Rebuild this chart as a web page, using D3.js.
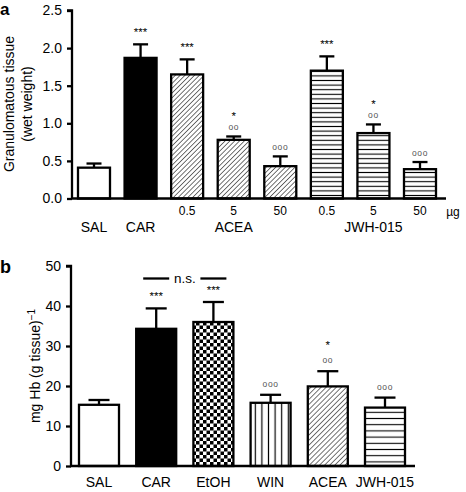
<!DOCTYPE html>
<html><head><meta charset="utf-8">
<script src="https://cdn.jsdelivr.net/npm/d3@7"></script>
<style>
html,body{margin:0;padding:0;background:#fff;}
svg{display:block;font-family:"Liberation Sans",Arial,sans-serif;}
</style></head>
<body>
<svg id="chart" width="466" height="492"></svg>
<script>
// ---------- Panel a data ----------
const aCategories = ["SAL","CAR","ACEA 0.5","ACEA 5","ACEA 50","JWH-015 0.5","JWH-015 5","JWH-015 50"];
const aDoseLabels = ["","","0.5","5","50","0.5","5","50"];
const aValues = [0.41, 1.87, 1.65, 0.78, 0.43, 1.70, 0.87, 0.39];
const aErrors = [0.055, 0.18, 0.20, 0.045, 0.13, 0.19, 0.115, 0.095];
const aStars = ["","***","***","*","","***","*",""];
const aCircles = ["","","","oo","ooo","","oo","ooo"];
const aFills = ["white","black","diag","diag","diag","hlines","hlines","hlines"];
const aYTicks = [0, 0.5, 1.0, 1.5, 2.0, 2.5];

// ---------- Panel b data ----------
const bCategories = ["SAL","CAR","EtOH","WIN","ACEA","JWH-015"];
const bValues = [15.3, 34.3, 36.0, 15.8, 19.9, 14.6];
const bErrors = [1.2, 5.1, 5.0, 2.0, 3.8, 2.5];
const bStars = ["","***","***","","*",""];
const bCircles = ["","","","ooo","oo","ooo"];
const bFills = ["white","black","checker","vlines","diagB","hlinesB"];
const bYTicks = [0, 10, 20, 30, 40, 50];

const svg = d3.select("#chart");
const defs = svg.append("defs");

// patterns
function diagPattern(id, size, sw){
  const p = defs.append("pattern").attr("id", id).attr("patternUnits","userSpaceOnUse")
    .attr("width", size).attr("height", size).attr("patternTransform","rotate(45)");
  p.append("rect").attr("width", size).attr("height", size).attr("fill","white");
  p.append("line").attr("x1",0).attr("y1",0).attr("x2",0).attr("y2",size)
    .attr("stroke","black").attr("stroke-width", sw);
}
diagPattern("diag", 3.4, 1.1);
diagPattern("diagB", 3.6, 1.1);
function hPattern(id, size, sw){
  const p = defs.append("pattern").attr("id", id).attr("patternUnits","userSpaceOnUse")
    .attr("width", 10).attr("height", size);
  p.append("rect").attr("width", 10).attr("height", size).attr("fill","white");
  p.append("line").attr("x1",0).attr("y1",size/2).attr("x2",10).attr("y2",size/2)
    .attr("stroke","black").attr("stroke-width", sw);
}
hPattern("hlines", 4.6, 1.1);
hPattern("hlinesB", 6.2, 1.1);
(function(){
  const p = defs.append("pattern").attr("id","vlines").attr("patternUnits","userSpaceOnUse")
    .attr("width", 6.6).attr("height", 10).attr("x", 1.2);
  p.append("rect").attr("width", 6.6).attr("height", 10).attr("fill","white");
  p.append("line").attr("x1",3.3).attr("y1",0).attr("x2",3.3).attr("y2",10)
    .attr("stroke","black").attr("stroke-width",1.2);
  const c = defs.append("pattern").attr("id","checker").attr("patternUnits","userSpaceOnUse")
    .attr("width", 7).attr("height", 7);
  c.append("rect").attr("width",7).attr("height",7).attr("fill","white");
  c.append("rect").attr("width",3.5).attr("height",3.5).attr("fill","black");
  c.append("rect").attr("x",3.5).attr("y",3.5).attr("width",3.5).attr("height",3.5).attr("fill","black");
})();
function fillOf(f){ return (f==="white"||f==="black") ? f : `url(#${f})`; }

const FONT = "Liberation Sans, Arial, sans-serif";

function drawPanel(opt){
  const g = svg.append("g");
  const y = d3.scaleLinear().domain(opt.domain).range([opt.y0, opt.y1]);
  const x = d3.scalePoint().domain(opt.categories).range([opt.xFirst, opt.xLast]);
  const bw = opt.barWidth;

  opt.categories.forEach((c,i)=>{
    const cx = x(c);
    const v = opt.values[i], e = opt.errors[i];
    g.append("line").attr("x1",cx).attr("x2",cx).attr("y1",y(v)).attr("y2",y(v+e))
      .attr("stroke","black").attr("stroke-width",2.3);
    g.append("line").attr("x1",cx-opt.capW/2).attr("x2",cx+opt.capW/2).attr("y1",y(v+e)).attr("y2",y(v+e))
      .attr("stroke","black").attr("stroke-width",2.3);
    g.append("rect").attr("x",cx-bw/2).attr("y",y(v)).attr("width",bw).attr("height",y(0)-y(v))
      .attr("fill",fillOf(opt.fills[i])).attr("stroke","black").attr("stroke-width",2.3);
    if(opt.circles[i]){
      g.append("text").attr("x",cx).attr("y",y(v+e)-opt.circOff).attr("text-anchor","middle")
        .attr("font-size",8.5).attr("fill","#555").attr("letter-spacing",0.6)
        .attr("font-family",FONT).text(opt.circles[i]);
    }
    if(opt.stars[i]){
      const off = opt.circles[i] ? opt.starOffC : opt.starOff;
      g.append("text").attr("x",cx).attr("y",y(v+e)-off).attr("text-anchor","middle")
        .attr("font-size",11.5).attr("fill","black").attr("font-family",FONT).text(opt.stars[i]);
    }
  });

  const ax = g.append("g").attr("transform",`translate(${opt.axisX},0)`)
    .call(d3.axisLeft(y).tickValues(opt.ticks).tickSize(5).tickPadding(5).tickFormat(opt.fmt));
  ax.select(".domain").attr("stroke","black").attr("stroke-width",2.3).attr("d",`M-5,${y(opt.domain[1])}H0V${y(0)}`);
  ax.selectAll(".tick line").attr("stroke","black").attr("stroke-width",2.3);
  ax.selectAll(".tick text").attr("font-size",14).attr("font-family",FONT).attr("fill","black");
  g.append("line").attr("x1",opt.axisX-1).attr("x2",opt.xEnd).attr("y1",y(0)).attr("y2",y(0))
    .attr("stroke","black").attr("stroke-width",2.3);
  return {g,x,y};
}

// ---------- Panel a ----------
const A = drawPanel({
  categories:aCategories, values:aValues, errors:aErrors, stars:aStars, circles:aCircles, fills:aFills,
  domain:[0,2.5], y0:198.5, y1:10.5, xFirst:94, xLast:420, barWidth:32, capW:15,
  axisX:72, xEnd:446, ticks:aYTicks, fmt:d3.format(".1f"),
  starOff:8, starOffC:16, circOff:6
});
aCategories.forEach((c,i)=>{
  if(aDoseLabels[i]) A.g.append("text").attr("x",A.x(c)).attr("y",215).attr("text-anchor","middle")
    .attr("font-size",12).attr("font-family",FONT).text(aDoseLabels[i]);
});
A.g.append("text").attr("x",453).attr("y",216).attr("text-anchor","middle").attr("font-size",12)
  .attr("font-family",FONT).text("µg");
[["SAL",A.x("SAL")],["CAR",A.x("CAR")],["ACEA",A.x("ACEA 5")],["JWH-015",A.x("JWH-015 5")]].forEach(d=>{
  A.g.append("text").attr("x",d[1]).attr("y",232).attr("text-anchor","middle").attr("font-size",14)
    .attr("font-family",FONT).text(d[0]);
});
A.g.append("text").attr("transform","translate(14,104) rotate(-90)").attr("text-anchor","middle")
  .attr("font-size",14).attr("font-family",FONT).text("Granulomatous tissue");
A.g.append("text").attr("transform","translate(32,104) rotate(-90)").attr("text-anchor","middle")
  .attr("font-size",14).attr("font-family",FONT).text("(wet weight)");
svg.append("text").attr("x",0).attr("y",15).attr("font-size",17).attr("font-weight","bold")
  .attr("font-family",FONT).text("a");

// ---------- Panel b ----------
const B = drawPanel({
  categories:bCategories, values:bValues, errors:bErrors, stars:bStars, circles:bCircles, fills:bFills,
  domain:[0,50], y0:466, y1:266, xFirst:99, xLast:385, barWidth:40, capW:21,
  axisX:71, xEnd:415, ticks:bYTicks, fmt:d3.format("d"),
  starOff:8, starOffC:22, circOff:8
});
bCategories.forEach(c=>{
  B.g.append("text").attr("x",B.x(c)).attr("y",487).attr("text-anchor","middle").attr("font-size",14)
    .attr("font-family",FONT).text(c);
});
const nsY = 278.5;
["CAR","EtOH"].forEach(k=>{
  const cx = B.x(k);
  B.g.append("line").attr("x1",cx-13).attr("x2",cx+13).attr("y1",nsY).attr("y2",nsY)
    .attr("stroke","black").attr("stroke-width",2.3);
});
B.g.append("text").attr("x",(B.x("CAR")+B.x("EtOH"))/2).attr("y",nsY+4).attr("text-anchor","middle")
  .attr("font-size",13.5).attr("font-family",FONT).text("n.s.");
const yt = B.g.append("text").attr("transform","translate(40,366) rotate(-90)").attr("text-anchor","middle")
  .attr("font-size",14).attr("font-family",FONT);
yt.append("tspan").text("mg Hb (g tissue)");
yt.append("tspan").attr("dy",-5).attr("font-size",10).text("−1");
svg.append("text").attr("x",0).attr("y",273).attr("font-size",18).attr("font-weight","bold")
  .attr("font-family",FONT).text("b");
</script>
</body></html>
